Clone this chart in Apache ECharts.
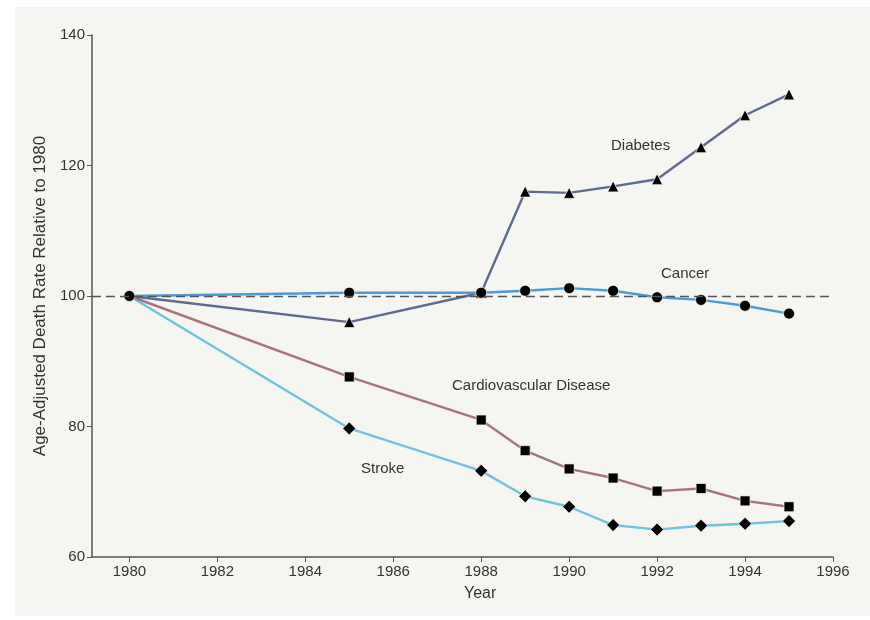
<!DOCTYPE html>
<html>
<head>
<meta charset="utf-8">
<script src="https://cdn.jsdelivr.net/npm/echarts@6/dist/echarts.min.js"></script>
<style>
html,body{margin:0;padding:0;background:#ffffff;}
#chart{width:870px;height:620px;}
</style>
</head>
<body>
<div id="chart"></div>
<script>
var years = [1980, 1985, 1988, 1989, 1990, 1991, 1992, 1993, 1994, 1995];
var diabetes = [100, 96.0, 100.5, 116.0, 115.8, 116.8, 117.9, 122.8, 127.7, 130.9];
var cancer = [100, 100.5, 100.5, 100.8, 101.2, 100.8, 99.8, 99.4, 98.5, 97.3];
var cardio = [100, 87.6, 81.0, 76.3, 73.5, 72.1, 70.1, 70.5, 68.6, 67.7];
var stroke = [100, 79.7, 73.2, 69.3, 67.7, 64.9, 64.2, 64.8, 65.1, 65.5];
var xTicks = [1980, 1982, 1984, 1986, 1988, 1990, 1992, 1994, 1996];
var yTicks = [60, 80, 100, 120, 140];
var seriesNames = ['Diabetes', 'Cancer', 'Cardiovascular Disease', 'Stroke'];

function pairs(vals, showFirst) {
  return years.map(function (y, i) {
    var d = { value: [y, vals[i]] };
    if (i === 0 && !showFirst) { d.symbol = 'none'; }
    return d;
  });
}

var chart = echarts.init(document.getElementById('chart'), null, { renderer: 'canvas' });
var font = 'Helvetica, Arial, "Liberation Sans", sans-serif';
var mk = { color: '#000000', borderColor: '#ffffff', borderWidth: 0.7 };

function lineSeries(name, vals, color, symbol, size, showFirst, z) {
  return {
    name: name,
    type: 'line',
    data: pairs(vals, showFirst),
    symbol: symbol,
    symbolSize: size,
    showAllSymbol: true,
    z: z,
    lineStyle: { color: color, width: 2.4 },
    itemStyle: mk,
    emphasis: { disabled: true }
  };
}

var option = {
  backgroundColor: '#ffffff',
  animation: false,
  textStyle: { fontFamily: font },
  graphic: [
    { type: 'rect', z: -10, silent: true, shape: { x: 15, y: 7, width: 855, height: 609 }, style: { fill: '#f5f5f1' } },
    { type: 'text', left: 611, top: 138, style: { text: 'Diabetes', fill: '#333333', font: '15px ' + font } },
    { type: 'text', left: 661, top: 266, style: { text: 'Cancer', fill: '#333333', font: '15px ' + font } },
    { type: 'text', left: 452, top: 378, style: { text: 'Cardiovascular Disease', fill: '#333333', font: '15px ' + font } },
    { type: 'text', left: 361, top: 461, style: { text: 'Stroke', fill: '#333333', font: '15px ' + font } }
  ],
  grid: { left: 92, right: 37, top: 35, bottom: 63, containLabel: false },
  xAxis: {
    type: 'value',
    min: 1979.15,
    max: 1996,
    name: 'Year',
    nameLocation: 'start',
    nameGap: 0,
    nameTextStyle: { color: '#333333', fontSize: 16, align: 'left', verticalAlign: 'top', padding: [29, 0, 0, 372] },
    axisLine: { show: true, lineStyle: { color: '#555555', width: 1.5 } },
    axisTick: { show: true, length: 5, lineStyle: { color: '#555555' }, customValues: xTicks },
    axisLabel: { color: '#333333', fontSize: 15, margin: 7, customValues: xTicks, formatter: function (v) { return String(v); } },
    splitLine: { show: false }
  },
  yAxis: {
    type: 'value',
    min: 60,
    max: 140,
    interval: 20,
    name: 'Age-Adjusted Death Rate Relative to 1980',
    nameLocation: 'middle',
    nameGap: 39,
    nameRotate: 90,
    nameTextStyle: { color: '#333333', fontSize: 17 },
    axisLine: { show: true, lineStyle: { color: '#555555', width: 1.5 } },
    axisTick: { show: true, length: 5, lineStyle: { color: '#555555' } },
    axisLabel: { color: '#333333', fontSize: 15, margin: 7 },
    splitLine: { show: false }
  },
  series: [
    {
      name: 'ref', type: 'line', data: [], z: 1,
      markLine: {
        silent: true, symbol: 'none', label: { show: false },
        lineStyle: { color: '#555555', type: [9, 5], width: 1.3 },
        data: [{ yAxis: 100 }]
      }
    },
    lineSeries(seriesNames[3], stroke, '#6ec4dd', 'diamond', 13, false, 3),
    lineSeries(seriesNames[2], cardio, '#a6747f', 'rect', 10, false, 3),
    lineSeries(seriesNames[0], diabetes, '#5f6a8f', 'triangle', 11, false, 3),
    lineSeries(seriesNames[1], cancer, '#4c9bd5', 'circle', 11, true, 4)
  ]
};
chart.setOption(option);
</script>
</body>
</html>
